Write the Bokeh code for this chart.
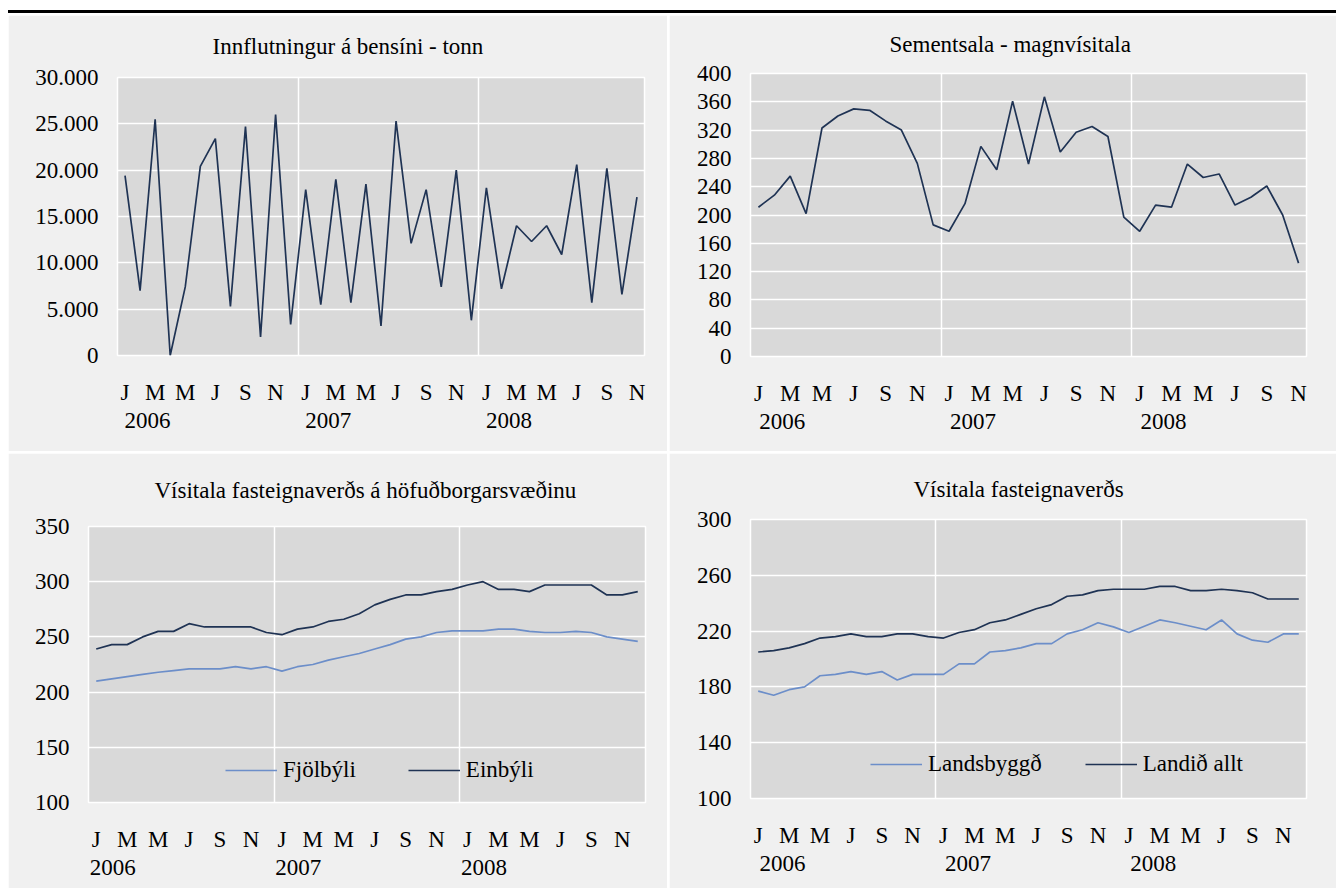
from bokeh.plotting import figure
from bokeh.models import Range1d, FixedTicker, LinearAxis, Div
from bokeh.layouts import column, row
from bokeh.embed import file_html
from bokeh.resources import INLINE

# ---------------- data ----------------
month_letters = ["J", "M", "M", "J", "S", "N"] * 3          # tick labels, every 2nd month
years = ["2006", "2007", "2008"]

benzin_tonn = [19400, 7000, 25500, 0, 7400, 20400, 23400, 5300, 24700, 2000, 26000, 3350,
               17900, 5500, 19000, 5700, 18500, 3200, 25300, 12100, 17900, 7400, 20000, 3800,
               18100, 7200, 14000, 12300, 14000, 10900, 20600, 5700, 20200, 6600, 17100]
benzin_ticks = [0, 5000, 10000, 15000, 20000, 25000, 30000]
benzin_labels = ["0", "5.000", "10.000", "15.000", "20.000", "25.000", "30.000"]

sement = [211, 228, 255, 202, 323, 340, 350, 348, 333, 320, 273, 186,
          177, 216, 297, 264, 361, 272, 367, 289, 317, 325, 311, 197,
          177, 214, 211, 272, 253, 258, 214, 225, 241, 200, 132]
sement_ticks = [0, 40, 80, 120, 160, 200, 240, 280, 320, 360, 400]
sement_labels = [str(t) for t in sement_ticks]

fjolbyli = [210, 212, 214, 216, 218, 219.5, 221, 221, 221, 223, 221, 223,
            219, 223, 225, 229, 232, 235, 239, 243, 248, 250, 254, 255.5,
            255.5, 255.5, 257, 257, 255, 254, 254, 255, 254, 250, 248, 246]
einbyli = [239, 243, 243, 250, 255, 255, 262, 259, 259, 259, 259, 254,
           252, 257, 259, 264, 266, 271, 279, 284, 288, 288, 291, 293,
           297, 300, 293, 293, 291, 297, 297, 297, 297, 288, 288, 291]
hofud_ticks = [100, 150, 200, 250, 300, 350]
hofud_labels = [str(t) for t in hofud_ticks]

landsbyggd = [177, 174, 178, 180, 188, 189, 191, 189, 191, 185, 189, 189,
              189, 196.5, 196.5, 205, 206, 208, 211, 211, 218, 221, 226, 223,
              219, 223.5, 228, 226, 223.5, 221, 228, 218, 213.5, 212, 218, 218]
landid_allt = [205, 206, 208, 211, 215, 216, 218, 216, 216, 218, 218, 216,
               215, 219, 221, 226, 228, 232, 236, 239, 245, 246, 249, 250,
               250, 250, 252, 252, 249, 249, 250, 249, 247.5, 243, 243, 243]
land_ticks = [100, 140, 180, 220, 260, 300]
land_labels = [str(t) for t in land_ticks]

# ---------------- style ----------------
FONT = "Liberation Serif"
DARK = "#1f3354"
LIGHT = "#6c8ec9"
PANEL_BG = "#f0f0f0"
PLOT_BG = "#d9d9d9"
TICK_SIZE = "23px"
TITLE_SIZE = "23px"

ALIGN_OFF = True


def make_panel(title, series, colors, names, n, yticks, ylabels, W, H,
               bl, br, bt, bb, title_x, title_standoff, legend_xy=None,
               legend_spacing=50, year_shift=1.5):
    global ALIGN_OFF
    p = figure(width=W, height=H, x_range=Range1d(-0.5, n - 0.5),
               y_range=Range1d(yticks[0], yticks[-1]),
               output_backend="svg", toolbar_location=None,
               min_border_left=bl, min_border_right=br,
               min_border_top=bt, min_border_bottom=bb,
               background_fill_color=PLOT_BG, border_fill_color=PANEL_BG,
               outline_line_color="white", outline_line_width=1.5)
    try:
        p.frame_align = False
    except Exception:
        ALIGN_OFF = False

    xs = list(range(n))
    for ys, c, nm in zip(series, colors, names):
        if nm:
            p.line(xs, ys, line_color=c, line_width=1.7, legend_label=nm)
        else:
            p.line(xs, ys, line_color=c, line_width=1.7)

    # title
    p.title.text = title
    p.title.align = "left"
    p.title.vertical_align = "top"
    p.title.offset = title_x
    p.title.standoff = title_standoff
    p.title.text_font = FONT
    p.title.text_font_size = TITLE_SIZE
    p.title.text_font_style = "normal"
    p.title.text_color = "black"

    # grids
    p.ygrid.ticker = FixedTicker(ticks=yticks, minor_ticks=[])
    p.ygrid.grid_line_color = "white"
    p.ygrid.grid_line_width = 1.5
    p.xgrid.ticker = FixedTicker(ticks=[11.5, 23.5], minor_ticks=[])
    p.xgrid.grid_line_color = "white"
    p.xgrid.grid_line_width = 1.5

    # y axis
    ya = p.yaxis[0]
    ya.ticker = FixedTicker(ticks=yticks, minor_ticks=[])
    ya.major_label_overrides = {t: l for t, l in zip(yticks, ylabels)}
    ya.axis_line_color = None
    ya.major_tick_line_color = None
    ya.minor_tick_line_color = None
    ya.major_tick_out = 0
    ya.major_tick_in = 0
    ya.major_label_standoff = 19
    ya.major_label_text_font = FONT
    ya.major_label_text_font_size = TICK_SIZE
    ya.major_label_text_color = "black"

    # month axis
    mt = list(range(0, 36, 2))
    xa = p.xaxis[0]
    xa.ticker = FixedTicker(ticks=mt, minor_ticks=[])
    xa.major_label_overrides = {t: l for t, l in zip(mt, month_letters)}
    xa.axis_line_color = None
    xa.major_tick_line_color = None
    xa.minor_tick_line_color = None
    xa.major_tick_out = 0
    xa.major_tick_in = 0
    xa.major_label_standoff = 24
    xa.major_label_text_font = FONT
    xa.major_label_text_font_size = TICK_SIZE
    xa.major_label_text_color = "black"

    # year axis (labels centred half a label-width right of January)
    yt = [0 + year_shift, 12 + year_shift, 24 + year_shift]
    ax2 = LinearAxis(ticker=FixedTicker(ticks=yt, minor_ticks=[]),
                     major_label_overrides={t: l for t, l in zip(yt, years)},
                     axis_line_color=None, major_tick_line_color=None,
                     minor_tick_line_color=None, major_tick_out=0, major_tick_in=0,
                     major_label_standoff=5, major_label_text_font=FONT,
                     major_label_text_font_size=TICK_SIZE,
                     major_label_text_color="black")
    p.add_layout(ax2, "below")

    if legend_xy is not None:
        lg = p.legend[0]
        lg.location = legend_xy
        lg.orientation = "horizontal"
        lg.background_fill_alpha = 0
        lg.border_line_alpha = 0
        lg.padding = 0
        lg.margin = 0
        lg.spacing = legend_spacing
        lg.label_standoff = 6
        lg.glyph_width = 52
        lg.glyph_height = 24
        lg.label_height = 24
        lg.label_text_font = FONT
        lg.label_text_font_size = TICK_SIZE
        lg.label_text_color = "black"
    return p


p1 = make_panel("Innflutningur á bensíni - tonn", [benzin_tonn], [DARK], [None], 35,
                benzin_ticks, benzin_labels, 659, 436, 109, 23, 62, 96, 95, 34)
p2 = make_panel("Sementsala - magnvísitala", [sement], [DARK], [None], 35,
                sement_ticks, sement_labels, 667, 436, 81, 30, 58, 95, 139, 30)
p3 = make_panel("Vísitala fasteignaverðs  á höfuðborgarsvæðinu", [fjolbyli, einbyli],
                [LIGHT, DARK], ["Fjölbýli", "Einbýli"], 36,
                hofud_ticks, hofud_labels, 659, 435, 80, 22, 73, 86, 66, 44,
                legend_xy=(137, 19), legend_spacing=52, year_shift=1.06)
p4 = make_panel("Vísitala fasteignaverðs", [landsbyggd, landid_allt],
                [LIGHT, DARK], ["Landsbyggð", "Landið allt"], 36,
                land_ticks, land_labels, 667, 435, 81, 30, 66, 90, 163, 32,
                legend_xy=(120, 21), legend_spacing=43, year_shift=1.58)

bar = Div(text="", width=1328, height=3, styles={"background-color": "black"},
          margin=(10, 0, 0, 0))
if ALIGN_OFF:
    r1 = row(p1, p2, spacing=2)
    r2 = row(p3, p4, spacing=2)
else:
    r1 = row(column(p1), column(p2), spacing=2)
    r2 = row(column(p3), column(p4), spacing=2)
layout = column(bar, r1, r2, spacing=2, margin=(0, 0, 0, 8))

open("out.html", "w").write(file_html(layout, INLINE))
